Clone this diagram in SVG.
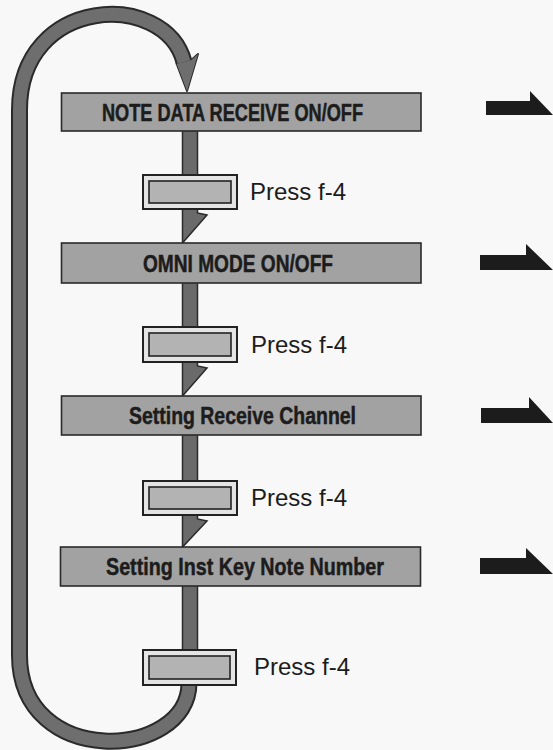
<svg xmlns="http://www.w3.org/2000/svg" width="553" height="750" viewBox="0 0 553 750">
  <style>
    .box { fill: #a2a2a2; stroke: #2a2a2a; stroke-width: 1.6; }
    .btxt { font-family: "Liberation Sans", Arial, sans-serif; font-weight: bold; font-size: 24px; fill: #1c1c1c; stroke: #1c1c1c; stroke-width: 0.5; }
    .ptxt { font-family: "Liberation Sans", Arial, sans-serif; font-size: 24px; fill: #1c1c1c; }
    .pout { fill: #e4e4e4; stroke: #222; stroke-width: 2; }
    .pin { fill: #b3b3b3; stroke: #222; stroke-width: 1.6; }
    .shaft { fill: #6a6a6a; stroke: #2a2a2a; stroke-width: 1.5; stroke-linejoin: miter; }
    .rarrow { fill: #1c1c1c; }
    .bandDark { fill: none; stroke: #2a2a2a; stroke-width: 17; }
    .bandGray { fill: none; stroke: #6e6e6e; stroke-width: 13; }
  </style>
  <rect x="0" y="0" width="553" height="750" fill="#f8f8f8"/>

  <g id="connectors">
    <!-- loop back arrow -->
    <polygon points="176.7,63.9 191.3,60.1 198,54 187,91" fill="#2a2a2a" stroke="#2a2a2a" stroke-width="2" stroke-linejoin="round"/>
    <path class="bandDark" d="M189,683 C189,760 19.5,770 19.5,655 L19.5,110 C19.5,-5 165,-10 184,62"/>
    <polygon points="176.7,63.9 191.3,60.1 198,54 187,91" fill="#6e6e6e"/>
    <path class="bandGray" d="M189,683 C189,760 19.5,770 19.5,655 L19.5,110 C19.5,-5 165,-10 184,62"/>

    <!-- shafts from boxes to press keys -->
    <rect class="shaft" x="182.5" y="128" width="15" height="50"/>
    <rect class="shaft" x="182.5" y="280" width="15" height="50"/>
    <rect class="shaft" x="182.5" y="432" width="15" height="53"/>
    <rect class="shaft" x="182.5" y="583" width="15" height="70"/>

    <!-- arrows from press keys to next boxes -->
    <polygon class="shaft" points="182.5,207 197.5,207 197.5,213 207,215 182.5,243"/>
    <polygon class="shaft" points="182.5,360 197.5,360 197.5,366 207,368 182.5,396"/>
    <polygon class="shaft" points="182.5,513 197.5,513 197.5,519 207,521 182.5,547"/>

    <!-- right-pointing arrows -->
    <polygon class="rarrow" points="486,101 530,101 530,91 553,115 486,115"/>
    <polygon class="rarrow" points="480,255 526,255 526,244 553,270 480,270"/>
    <polygon class="rarrow" points="481,408 529,408 529,397 553,423 481,423"/>
    <polygon class="rarrow" points="480,558 526,558 526,548 553,574 480,574"/>
  </g>

  <g id="node-note-data">
    <rect class="box" x="61.5" y="93" width="359.5" height="38"/>
    <text class="btxt" x="102" y="120.5" textLength="261" lengthAdjust="spacingAndGlyphs">NOTE DATA RECEIVE ON/OFF</text>
  </g>
  <g id="press-1">
    <rect class="pout" x="143" y="175" width="94" height="34"/>
    <rect class="pin" x="149" y="181" width="82" height="22"/>
    <text class="ptxt" x="250" y="200">Press f-4</text>
  </g>

  <g id="node-omni">
    <rect class="box" x="61.5" y="243" width="359.5" height="40"/>
    <text class="btxt" x="143" y="271.5" textLength="190" lengthAdjust="spacingAndGlyphs">OMNI MODE ON/OFF</text>
  </g>
  <g id="press-2">
    <rect class="pout" x="143" y="327" width="94" height="35"/>
    <rect class="pin" x="149" y="333" width="82" height="23"/>
    <text class="ptxt" x="251" y="353">Press f-4</text>
  </g>

  <g id="node-receive-channel">
    <rect class="box" x="61.5" y="396" width="359.5" height="39"/>
    <text class="btxt" x="129" y="424" textLength="227" lengthAdjust="spacingAndGlyphs">Setting Receive Channel</text>
  </g>
  <g id="press-3">
    <rect class="pout" x="143" y="481" width="94" height="34"/>
    <rect class="pin" x="149" y="487" width="82" height="22"/>
    <text class="ptxt" x="251" y="506">Press f-4</text>
  </g>

  <g id="node-inst-key">
    <rect class="box" x="60.5" y="547" width="360" height="39"/>
    <text class="btxt" x="106" y="575" textLength="278" lengthAdjust="spacingAndGlyphs">Setting Inst Key Note Number</text>
  </g>
  <g id="press-4">
    <rect class="pout" x="143" y="650" width="93" height="35"/>
    <rect class="pin" x="149" y="656" width="81" height="23"/>
    <text class="ptxt" x="254" y="675">Press f-4</text>
  </g>
</svg>
